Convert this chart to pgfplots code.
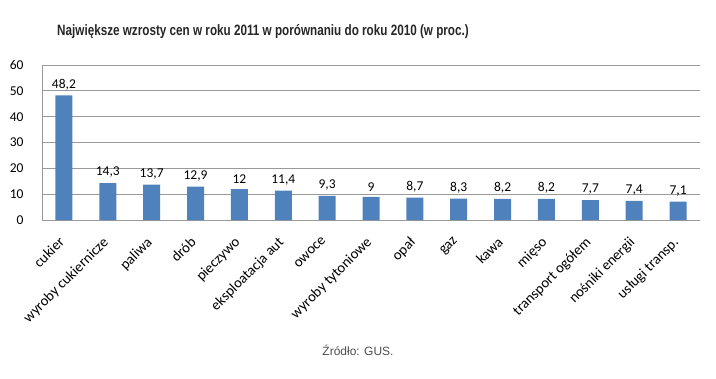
\documentclass[border=0pt]{standalone}
\usepackage{pgfplots}
\pgfplotsset{compat=1.18}
\usepackage{fontspec}
\setmainfont{Carlito}
\newfontfamily\arialfont{Liberation Sans}
\definecolor{barblue}{HTML}{4F81BD}
\definecolor{gridgray}{HTML}{9A9A9A}
\begin{document}
\begin{tikzpicture}[x=1bp,y=1bp]
\path (0,0) rectangle (716,378);
\begin{axis}[
  at={(42bp,158bp)}, anchor=south west,
  scale only axis, width=658bp, height=155bp,
  xmin=-0.5, xmax=14.5, ymin=0, ymax=60,
  ytick={0,10,...,60},
  xtick={0,...,14},
  xticklabels={cukier,wyroby cukiernicze,paliwa,drób,pieczywo,eksploatacja aut,owoce,wyroby tytoniowe,opał,gaz,kawa,mięso,transport ogółem,nośniki energii,usługi transp.},
  axis x line*=bottom, axis y line*=left,
  axis line style={gridgray, -},
  major tick length=0pt,
  ymajorgrids, grid style={gridgray, line width=0.8pt},
  /pgf/number format/assume math mode=true,
  /pgf/number format/use comma,
  ticklabel style={font=\fontsize{13.5bp}{15bp}\selectfont, text=black},
  yticklabel style={xshift=-15bp},
  xticklabel style={font=\fontsize{14.6bp}{17bp}\selectfont, xshift=-6bp, yshift=-11bp, rotate=45, anchor=north east},
  ybar, bar width=17bp,
  nodes near coords,
  every node near coord/.style={font=\fontsize{13.5bp}{15bp}\selectfont, text=black, yshift=2bp},
]
\addplot[fill=barblue, draw=none] coordinates {
(0,48.2) (1,14.3) (2,13.7) (3,12.9) (4,12) (5,11.4) (6,9.3) (7,9) (8,8.7) (9,8.3) (10,8.2) (11,8.2) (12,7.7) (13,7.4) (14,7.1)
};
\end{axis}
\node[font=\arialfont\bfseries\fontsize{15bp}{18bp}\selectfont, text=black!85] at (263,346) {\scalebox{0.78}[1]{Największe wzrosty cen w roku 2011 w porównaniu do roku 2010 (w proc.)}};
\node[font=\arialfont\fontsize{12bp}{14bp}\selectfont, text=black!70] at (358,28) {Źródło: GUS.};
\end{tikzpicture}
\end{document}
